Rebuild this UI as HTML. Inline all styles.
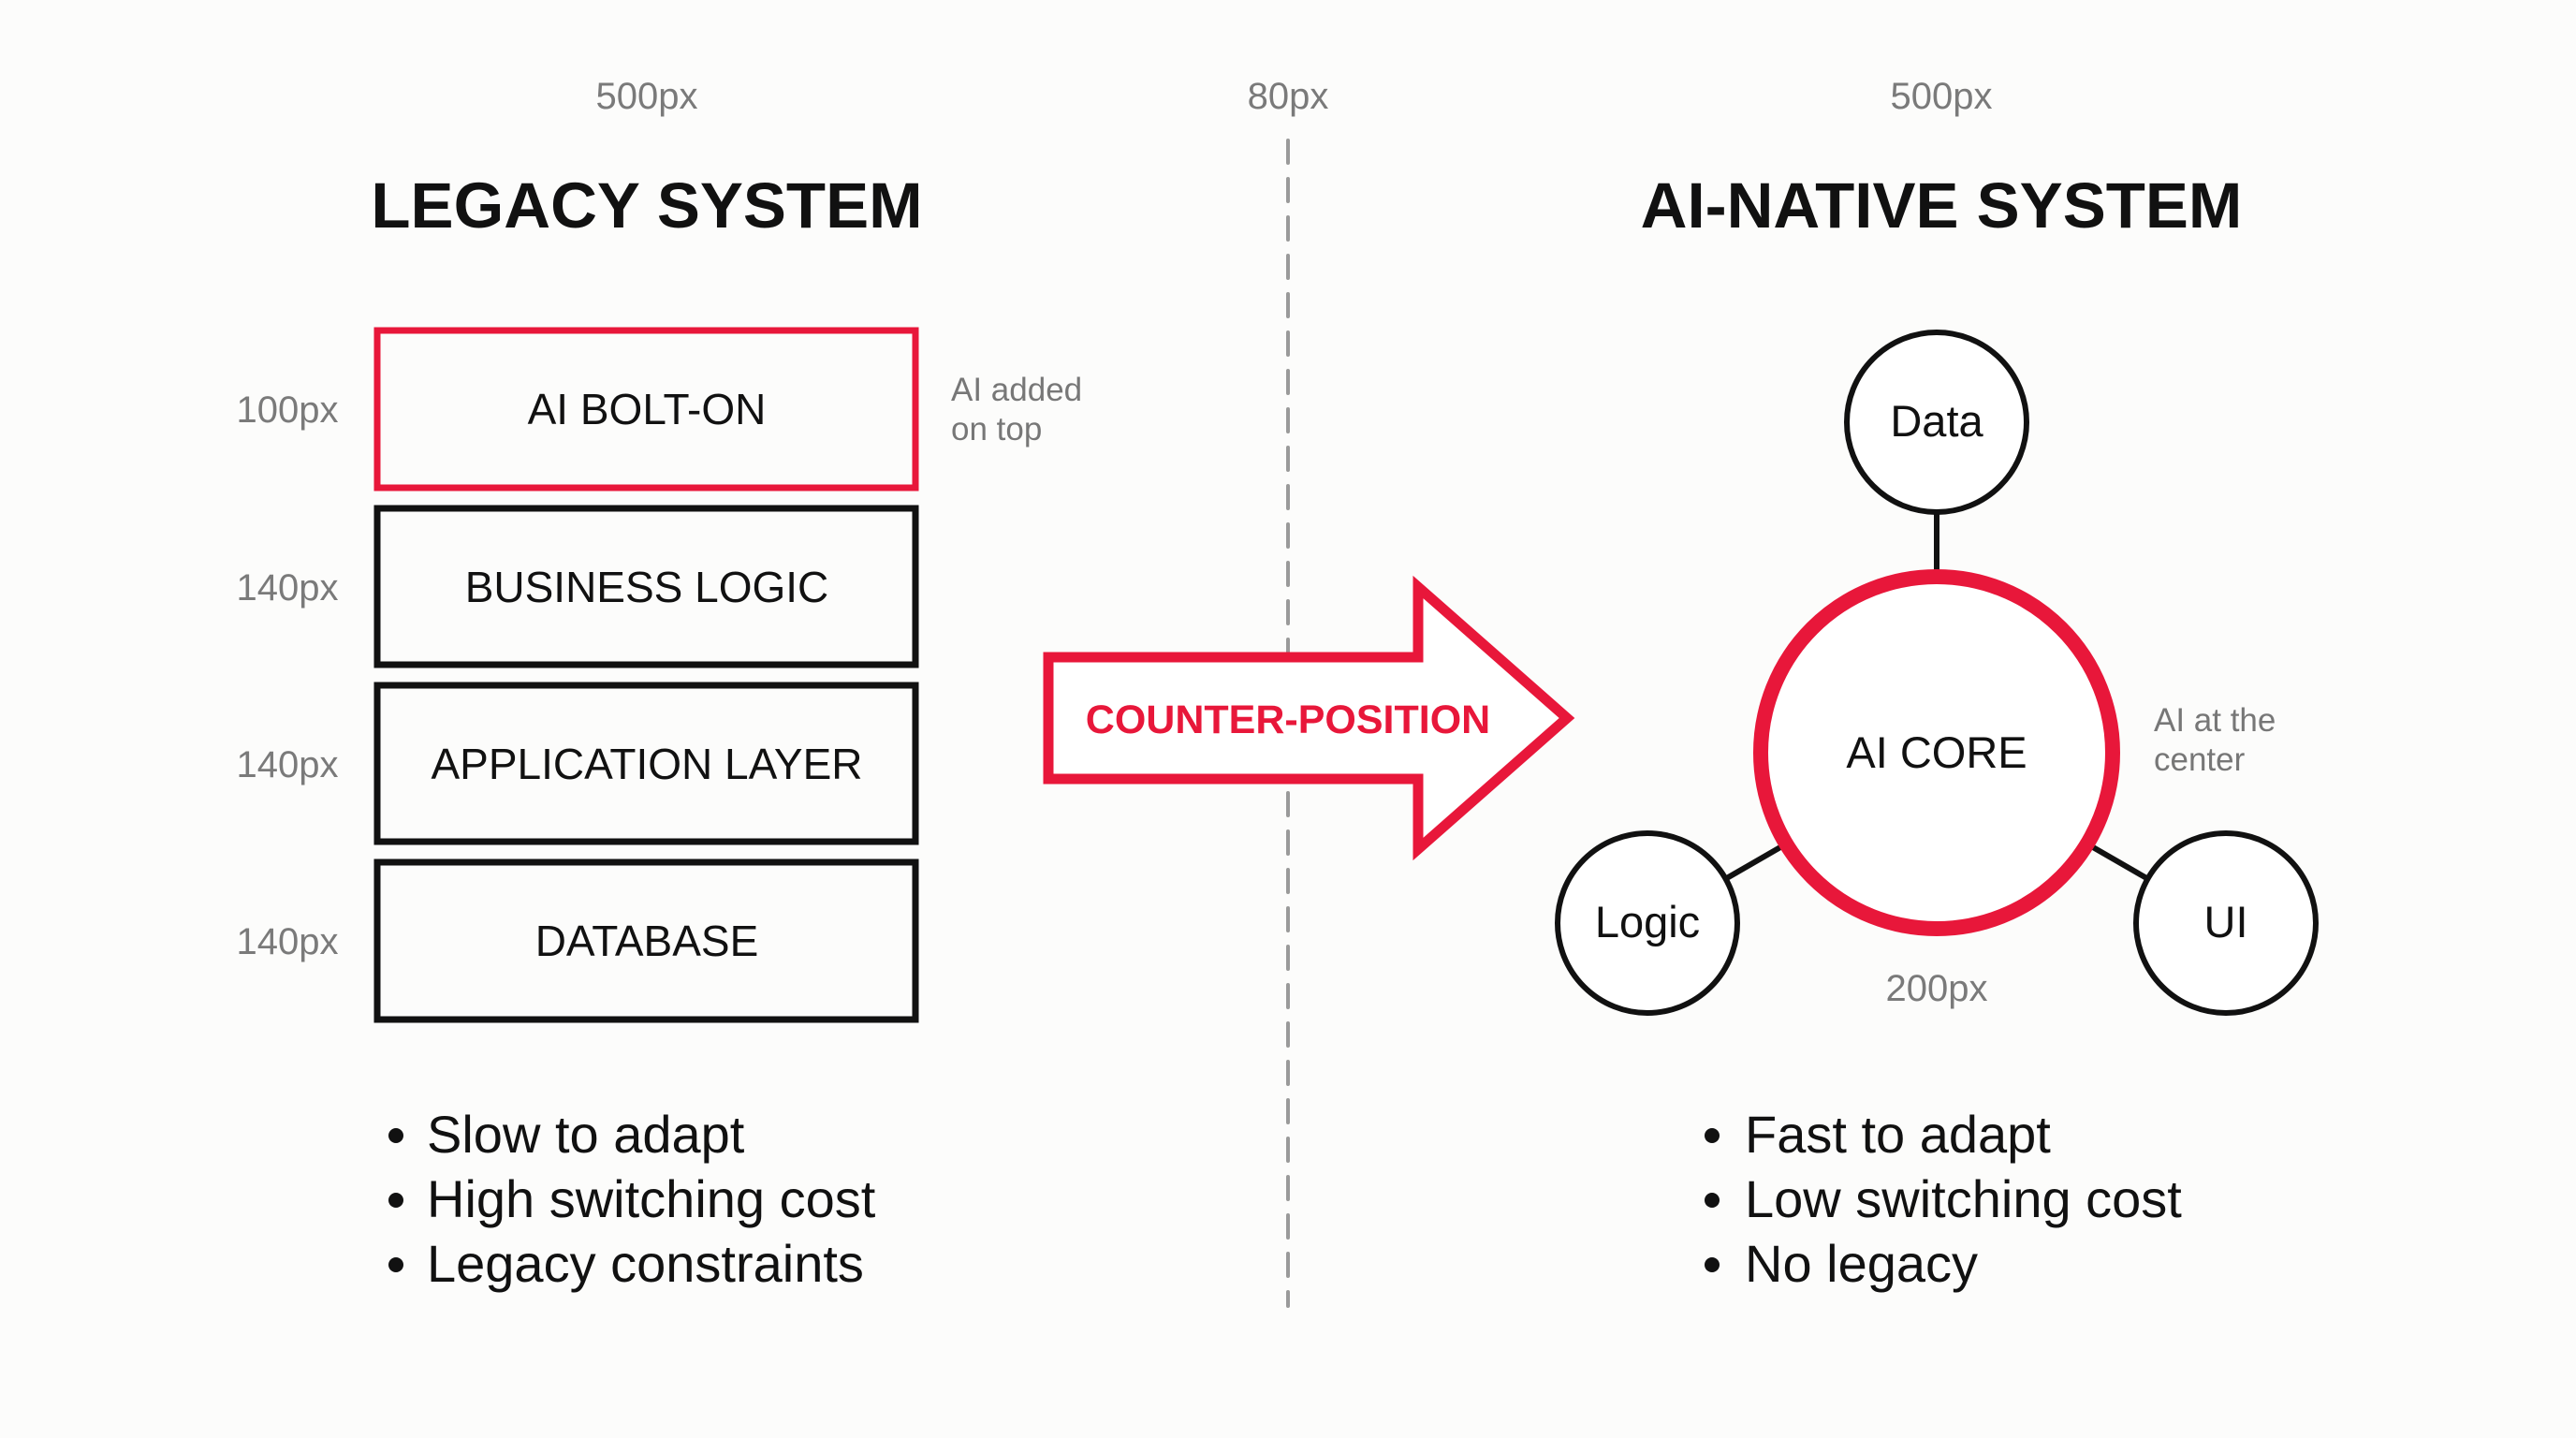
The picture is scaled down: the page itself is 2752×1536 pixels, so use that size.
<!DOCTYPE html>
<html><head><meta charset="utf-8"><style>
html,body{margin:0;padding:0;background:#fcfcfb;}
svg{display:block;}
text{font-family:"Liberation Sans",sans-serif;}
</style></head><body>
<svg width="2752" height="1536" viewBox="0 0 2752 1536" xmlns="http://www.w3.org/2000/svg">
<rect width="2752" height="1536" fill="#fcfcfb"/>
<g fill="#7a7a7a" font-size="40" text-anchor="middle">
<text x="691" y="116">500px</text>
<text x="1376" y="116">80px</text>
<text x="2074" y="116">500px</text>
</g>
<line x1="1376" y1="150" x2="1376" y2="1395" stroke="#9a9a9a" stroke-width="4" stroke-dasharray="24 17" stroke-linecap="round"/>
<g font-weight="bold" font-size="69" fill="#111" text-anchor="middle">
<text x="691" y="243">LEGACY SYSTEM</text>
<text x="2074" y="243">AI-NATIVE SYSTEM</text>
</g>
<g fill="none" stroke-width="7">
<rect x="403" y="353" width="575" height="168" stroke="#e8173a"/>
<rect x="403" y="543" width="575" height="167" stroke="#111"/>
<rect x="403" y="732" width="575" height="167" stroke="#111"/>
<rect x="403" y="921" width="575" height="168" stroke="#111"/>
</g>
<g font-size="46" fill="#111" text-anchor="middle">
<text x="691" y="453">AI BOLT-ON</text>
<text x="691" y="643">BUSINESS LOGIC</text>
<text x="691" y="832">APPLICATION LAYER</text>
<text x="691" y="1021">DATABASE</text>
</g>
<g font-size="40" fill="#7a7a7a" text-anchor="middle">
<text x="307" y="451">100px</text>
<text x="307" y="641">140px</text>
<text x="307" y="830">140px</text>
<text x="307" y="1019">140px</text>
</g>
<g font-size="35" fill="#777">
<text x="1016" y="428">AI added</text>
<text x="1016" y="470">on top</text>
<text x="2301" y="781">AI at the</text>
<text x="2301" y="823">center</text>
</g>
<polygon points="1120,702 1515,702 1515,627 1674,767 1515,907 1515,832 1120,832" fill="#fff" stroke="#e8173a" stroke-width="11" stroke-linejoin="miter"/>
<text x="1376" y="783" font-size="43" font-weight="bold" fill="#e8173a" text-anchor="middle">COUNTER-POSITION</text>
<g stroke="#111" stroke-width="6">
<line x1="2069" y1="548" x2="2069" y2="612"/>
<line x1="1843" y1="939" x2="1902" y2="905"/>
<line x1="2295" y1="939" x2="2236" y2="905"/>
</g>
<g fill="#fff" stroke="#111" stroke-width="6">
<circle cx="2069" cy="451" r="96"/>
<circle cx="1760" cy="986" r="96"/>
<circle cx="2378" cy="986" r="96"/>
</g>
<circle cx="2069" cy="804" r="188" fill="#fff" stroke="#e8173a" stroke-width="16"/>
<g font-size="47" fill="#111" text-anchor="middle">
<text x="2069" y="466">Data</text>
<text x="1760" y="1001">Logic</text>
<text x="2378" y="1001">UI</text>
<text x="2069" y="820">AI CORE</text>
</g>
<text x="2069" y="1069" font-size="40" fill="#7a7a7a" text-anchor="middle">200px</text>
<g font-size="56" fill="#111">
<text x="456" y="1231">Slow to adapt</text>
<text x="456" y="1300">High switching cost</text>
<text x="456" y="1369">Legacy constraints</text>
<text x="1864" y="1231">Fast to adapt</text>
<text x="1864" y="1300">Low switching cost</text>
<text x="1864" y="1369">No legacy</text>
</g>
<g fill="#111">
<circle cx="423" cy="1213" r="8"/><circle cx="423" cy="1282" r="8"/><circle cx="423" cy="1351" r="8"/>
<circle cx="1829" cy="1213" r="8"/><circle cx="1829" cy="1282" r="8"/><circle cx="1829" cy="1351" r="8"/>
</g>
</svg>
</body></html>
